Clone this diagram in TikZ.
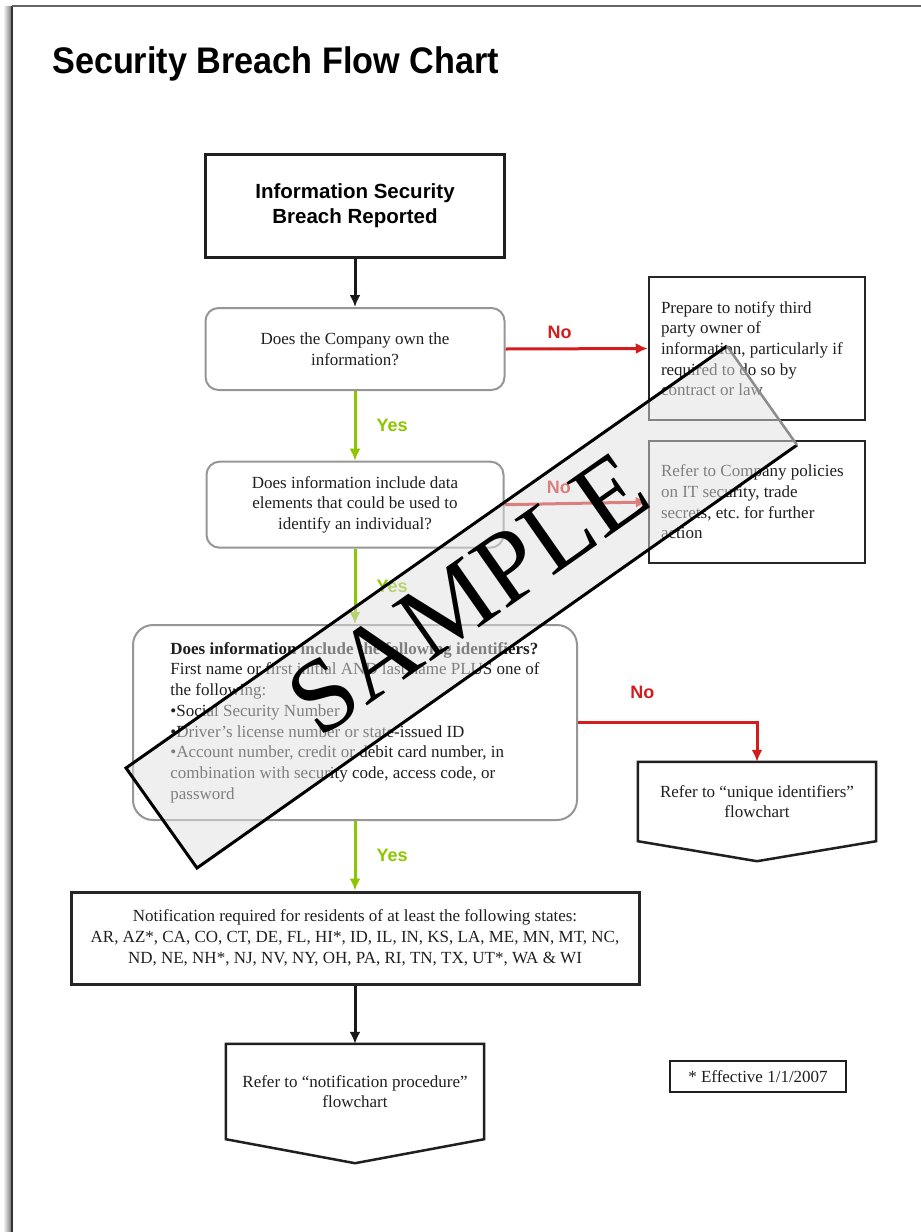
\documentclass[tikz,border=0pt]{standalone}
\usepackage{fontspec}
\setmainfont{Liberation Serif}
\newfontfamily\sansf{Liberation Sans}
\newfontfamily\titlef[FakeStretch=0.925]{Liberation Sans}
\usetikzlibrary{arrows.meta,calc}
\definecolor{nored}{RGB}{212,28,28}
\definecolor{yesgreen}{RGB}{140,198,0}
\definecolor{rgray}{RGB}{150,150,150}
\tikzset{
  body/.style={font=\frenchspacing\fontsize{17}{20.7}\selectfont, text=black!88},
  topbox/.style={draw=black!88, line width=3pt, align=center, font=\sansf\bfseries\fontsize{20.5}{25}\selectfont},
  qbox/.style={body, draw=rgray, line width=2pt, rounded corners=13pt, fill=white, align=center},
  sidebox/.style={body, draw=black!85, line width=2.5pt, minimum width=216pt, minimum height=143pt, text width=192pt, inner xsep=12pt, align=flush left},
  hardbox/.style={body, draw=black!85, line width=3pt, align=center},
  plainbox/.style={body, align=center, inner sep=0pt},
  penta/.style={draw=black!88, line width=2.5pt, line join=miter},
  tipstyle/.style={-{Latex[length=12pt,width=11pt]}},
  blkarrow/.style={draw=black!90, line width=3pt, tipstyle},
  redarrow/.style={draw=nored, line width=3pt, tipstyle},
  grnarrow/.style={draw=yesgreen, line width=3pt, tipstyle},
  nolabel/.style={text=nored, font=\sansf\bfseries\fontsize{18}{20}\selectfont, inner sep=0pt},
  yeslabel/.style={text=yesgreen, font=\sansf\bfseries\fontsize{18}{20}\selectfont, inner sep=0pt, midway, anchor=west, xshift=20pt}
}
\begin{document}
\begin{tikzpicture}[x=1pt,y=-1pt]
\useasboundingbox (0,0) rectangle (921,1232);
% page frame
\shade[left color=white, right color=black!50] (3,6) rectangle (11,1232);
\draw[black!80, line width=2.5pt] (12,6) -- (12,1232);
\draw[black!60, line width=1.5pt] (12,6) -- (921,6);

\node[anchor=base west, inner sep=0pt, font=\titlef\bfseries\fontsize{37}{40}\selectfont] (title) at (52,73) {Security Breach Flow Chart};

\node[topbox, minimum width=299pt, minimum height=103pt] (start) at (355,205.5) {Information Security\\Breach Reported};

\node[qbox, minimum width=299pt, minimum height=82pt] (q1) at (355,349) {Does the Company own the\\information?};

\node[sidebox] (own) at (757,348.5) {Prepare to notify third\\party owner of\\information, particularly if\\required to do so by\\contract or law};

\node[qbox, minimum width=297pt, minimum height=86pt] (q2) at (355,504.7) {Does information include data\\elements that could be used to\\identify an individual?};

\node[sidebox, minimum height=122pt] (policy) at (757,502) {Refer to Company policies\\on IT security, trade\\secrets, etc. for further\\action};

\node[qbox, rounded corners=20pt, minimum width=444pt, minimum height=195pt, align=left] (q3) at (355,722.5) {\textbf{Does information include the following identifiers?}\\First name or first initial AND last name PLUS one of\\the following:\\•Social Security Number\\•Driver’s license number or state-issued ID\\•Account number, credit or debit card number, in\\combination with security code, access code, or\\password};

\node[plainbox, minimum width=238pt, minimum height=79pt] (uniq) at (757,801.5) {Refer to “unique identifiers”\\flowchart};
\draw[penta] (uniq.north west) -- (uniq.north east) -- (uniq.south east) -- ([yshift=-20pt]uniq.south) -- (uniq.south west) -- cycle;

\node[hardbox, minimum width=568pt, minimum height=92pt] (notif) at (355,938) {Notification required for residents of at least the following states:\\AR, AZ*, CA, CO, CT, DE, FL, HI*, ID, IL, IN, KS, LA, ME, MN, MT, NC,\\ND, NE, NH*, NJ, NV, NY, OH, PA, RI, TN, TX, UT*, WA \& WI};

\node[plainbox, minimum width=258pt, minimum height=95pt] (proc) at (355,1091.5) {Refer to “notification procedure”\\flowchart};
\draw[penta] (proc.north west) -- (proc.north east) -- (proc.south east) -- ([yshift=-24pt]proc.south) -- (proc.south west) -- cycle;

\node[body, draw=black!88, line width=2.5pt, minimum width=176pt, minimum height=31pt] (eff) at (758,1076.5) {* Effective 1/1/2007};

% connectors
\draw[blkarrow] (start.south) -- (q1.north);
\draw[redarrow] (q1.east) -- node[nolabel, pos=0.38, above=9pt] {No} (own.west);
\draw[grnarrow] (q1.south) -- node[yeslabel] {Yes} (q2.north);
\draw[redarrow] (q2.east) -- node[nolabel, pos=0.38, above=9pt] {No} (policy.west);
\draw[grnarrow] (q2.south) -- node[yeslabel] {Yes} (q3.north);
\draw[redarrow] (q3.east) -| node[nolabel, pos=0.18, above=22pt] {No} (uniq.north);
\draw[grnarrow] (q3.south) -- node[yeslabel] {Yes} (notif.north);
\draw[blkarrow] (notif.south) -- (proc.north);

% SAMPLE banner
\fill[black!12, fill opacity=0.5] (727,346) -- (797,445) -- (197,868) -- (126,768) -- cycle;
\draw[black, line width=3pt, line join=miter] (797,445) -- (197,868) -- (126,768) -- (727,346);
\draw[black!45, line width=2.5pt] (727,346) -- (797,445);
\node[rotate=35, inner sep=0pt, font=\fontsize{104}{110}\selectfont] (sample) at (468,594) {SAMPLE};
\end{tikzpicture}
\end{document}
